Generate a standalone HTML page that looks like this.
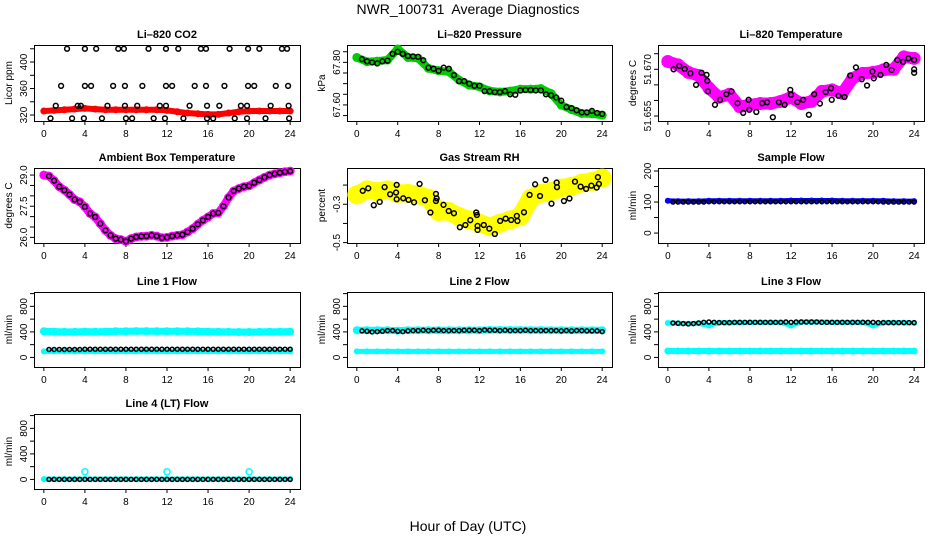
<!DOCTYPE html>
<html><head><meta charset="utf-8"><style>
html,body{margin:0;padding:0;background:#fff;}
svg{display:block;font-family:"Liberation Sans",Arial,sans-serif;}
</style></head><body>
<svg id="chart" width="936" height="540" viewBox="0 0 936 540" xmlns="http://www.w3.org/2000/svg">
<text x="468" y="14" font-size="14" text-anchor="middle" white-space="pre" xml:space="preserve">NWR_100731  Average Diagnostics</text>
<text x="468" y="531" font-size="14" text-anchor="middle">Hour of Day (UTC)</text>
</svg>
<script>
const HOURS=[0,1,2,3,4,5,6,7,8,9,10,11,12,13,14,15,16,17,18,19,20,21,22,23,24];
const HALF=[0.5,1,1.5,2,2.5,3,3.5,4,4.5,5,5.5,6,6.5,7,7.5,8,8.5,9,9.5,10,10.5,11,11.5,12,12.5,13,13.5,14,14.5,15,15.5,16,16.5,17,17.5,18,18.5,19,19.5,20,20.5,21,21.5,22,22.5,23,23.5,24];
const X_TICKS=[0,4,8,12,16,20,24];

// CO2
const co2Red=[326,327,328,329,330,329,328,328,328,328,328,328,327,325,323,322,321,321,323,325,326,326,326,326,326];
const co2BlackHours=[2.26,4.0,5.1,7.25,7.8,10.2,11.9,13.1,15.3,15.8,18.1,19.9,21.0,23.2,23.7,
1.68,4.0,4.6,6.75,7.9,9.6,11.9,12.5,14.7,15.8,17.6,19.9,20.5,22.6,23.8,
1.16,3.3,3.6,6.2,7.9,9.1,11.3,11.9,14.2,15.9,17.1,19.2,19.8,22.1,23.85,
0.65,2.75,3.9,5.66,8.0,8.6,10.7,11.8,13.6,15.9,16.5,18.6,19.8,21.6,23.9];
const co2BlackVals=[420,420,420,420,420,420,420,420,420,420,420,420,420,420,420,
364,364,364,364,364,364,364,364,364,364,364,364,364,364,364,
334,334,334,334,334,334,334,334,334,334,334,334,334,334,334,
315,315,315,315,315,315,315,315,315,315,315,315,315,315,315];

// Pressure
const presGreen=[67.823,67.803,67.806,67.811,67.863,67.823,67.819,67.772,67.761,67.756,67.717,67.693,67.685,67.666,67.661,67.665,67.674,67.674,67.677,67.654,67.599,67.578,67.560,67.558,67.552];
const presBlack=[67.815,67.805,67.800,67.795,67.805,67.808,67.840,67.850,67.840,67.830,67.828,67.826,67.810,67.775,67.770,67.760,67.775,67.770,67.740,67.712,67.712,67.700,67.690,67.690,67.665,67.664,67.660,67.660,67.665,67.650,67.648,67.668,67.670,67.670,67.668,67.668,67.650,67.645,67.635,67.620,67.590,67.585,67.575,67.565,67.565,67.572,67.562,67.558];

// Li-820 temperature
const tempMag=[51.6725,51.6714,51.669,51.668,51.664,51.661,51.662,51.658,51.6586,51.659,51.659,51.6597,51.661,51.659,51.6597,51.6629,51.6634,51.6623,51.6671,51.6687,51.669,51.6698,51.670,51.674,51.6735];
const tempBlackHours=[0.56,1.11,1.64,2.2,2.75,3.28,3.77,3.84,3.9,4.59,5.08,5.7,6.2,6.79,7.34,7.87,7.93,8.62,9.18,9.67,10.23,10.82,11.38,11.93,12.0,12.62,13.18,13.74,14.26,14.82,15.38,15.9,15.97,16.62,17.21,17.77,18.33,18.89,19.41,19.93,20.07,20.72,21.28,21.8,22.36,22.92,23.44,24.0,24.0,24.0];
const tempBlackVals=[51.6700,51.6711,51.6701,51.6687,51.6650,51.6689,51.6682,51.6663,51.6629,51.6586,51.6602,51.6620,51.6629,51.6591,51.6560,51.6602,51.6570,51.6563,51.6591,51.6594,51.6546,51.6594,51.6586,51.6634,51.6618,51.6595,51.6602,51.6554,51.6620,51.6590,51.6627,51.6639,51.6602,51.6615,51.6611,51.6680,51.6706,51.6668,51.6648,51.6693,51.6671,51.6682,51.6714,51.6698,51.6730,51.6724,51.6735,51.6730,51.6700,51.6689];

// Ambient box temperature (half-hourly from 0)
const ambHours=[0,0.5,1,1.5,2,2.5,3,3.5,4,4.5,5,5.5,6,6.5,7,7.5,8,8.5,9,9.5,10,10.5,11,11.5,12,12.5,13,13.5,14,14.5,15,15.5,16,16.5,17,17.5,18,18.5,19,19.5,20,20.5,21,21.5,22,22.5,23,23.5,24];
const ambVals=[29.0,28.95,28.73,28.44,28.27,28.06,27.82,27.71,27.47,27.15,26.98,26.66,26.34,26.10,25.94,25.89,25.81,25.94,26.02,26.05,26.06,26.10,26.06,25.98,26.0,26.06,26.10,26.13,26.26,26.42,26.63,26.82,26.98,27.15,27.18,27.50,27.92,28.23,28.35,28.44,28.48,28.63,28.76,28.89,29.0,29.06,29.11,29.16,29.19];

// Gas stream RH
const rhYellow=[-0.251,-0.225,-0.234,-0.225,-0.243,-0.243,-0.251,-0.269,-0.338,-0.338,-0.364,-0.382,-0.399,-0.417,-0.399,-0.382,-0.364,-0.269,-0.243,-0.234,-0.216,-0.207,-0.19,-0.181,-0.164];
const rhBlackHours=[0.58,1.12,1.66,2.24,2.72,3.26,3.84,3.9,3.9,4.54,5.06,5.6,6.14,6.66,7.2,7.74,7.74,7.81,8.48,8.99,9.5,10.08,10.62,11.1,11.68,11.74,11.81,11.81,12.42,12.96,13.5,14.02,14.56,15.1,15.65,15.71,16.35,16.9,17.44,17.92,18.46,19.04,19.55,19.58,20.26,20.8,21.34,21.89,22.43,22.94,23.46,23.58,23.68];
const rhBlackVals=[-0.230,-0.217,-0.305,-0.288,-0.211,-0.248,-0.239,-0.199,-0.274,-0.269,-0.277,-0.290,-0.194,-0.279,-0.343,-0.283,-0.246,-0.269,-0.303,-0.335,-0.347,-0.420,-0.408,-0.383,-0.343,-0.356,-0.413,-0.434,-0.408,-0.427,-0.455,-0.387,-0.375,-0.382,-0.361,-0.387,-0.342,-0.251,-0.196,-0.257,-0.173,-0.297,-0.187,-0.211,-0.283,-0.270,-0.182,-0.208,-0.220,-0.203,-0.213,-0.159,-0.194];

// Sample flow
const sampleBlue=[104,103,103,103,104,104,104,104,104,104,104,104,105,105,105,105,105,104,104,104,104,104,103,103,103];
const sampleBlack=[100,100,100,100,100,100,100,101,101,101,101,101,101,101,101,101,101,101,101,101,101,101,101,101,101,101,101,101,101,101,101,101,101,101,101,101,101,101,101,101,101,100,100,100,100,100,100,100];

// Line flows
const l1CyanHi=[410,405,400,400,405,402,405,410,410,412,412,410,410,410,410,408,405,402,400,398,398,400,402,402,405];
const l1CyanLo=[95,95,95,95,95,95,95,95,95,95,95,95,95,95,95,95,95,95,95,95,95,95,95,95,95];
const l1Black=[125,125,125,125,125,125,125,128,128,128,128,128,128,128,128,128,128,128,128,128,128,128,128,128,128,128,128,128,128,128,128,128,128,128,128,128,128,128,128,128,128,128,128,128,128,128,128,128];
const l2CyanHi=[425,425,425,425,420,425,425,425,425,425,425,425,425,430,430,430,430,428,428,425,425,425,425,425,425];
const l2CyanLo=[95,95,95,95,95,95,95,95,95,95,95,95,95,95,95,95,95,95,95,95,95,95,95,95,95];
const l2Black=[415,410,400,405,410,420,420,410,405,415,420,420,425,420,425,425,420,420,420,420,425,425,425,420,430,425,425,420,425,420,420,420,425,420,420,420,420,420,420,415,420,415,420,420,415,415,415,405];
const l3CyanHi=[540,535,530,535,500,545,545,545,550,550,550,550,500,555,555,555,550,550,550,550,500,545,545,545,540];
const l3CyanLo=[100,100,100,100,100,100,100,100,100,100,100,100,100,100,100,100,100,100,100,100,100,100,100,100,100];
const l3Black=[540,535,530,525,530,540,550,555,550,545,545,545,550,550,550,550,550,550,550,550,550,550,555,550,555,555,555,555,555,550,550,550,550,550,550,550,550,550,550,550,545,545,545,545,545,545,545,545];
const l4Cyan=[5,5,5,5,5,5,5,5,5,5,5,5,5,5,5,5,5,5,5,5,5,5,5,5,5];
const l4SpikeHours=[4,12,20];
const l4SpikeVals=[120,120,120];
const l4Black=[0,0,0,0,0,0,0,0,0,0,0,0,0,0,0,0,0,0,0,0,0,0,0,0,0,0,0,0,0,0,0,0,0,0,0,0,0,0,0,0,0,0,0,0,0,0,0,0];

const NS="http://www.w3.org/2000/svg";
const svg=document.getElementById('chart');
function el(tag,attrs,parent){const e=document.createElementNS(NS,tag);for(const k in attrs)e.setAttribute(k,attrs[k]);parent.appendChild(e);return e;}

function panel(name,title,ylab,x0,y0,x1,y1,ymin,ymax,ticks,labels,labelFmt){
  const g=el('g',{},svg);
  
  
  const sx=h=>x0+(h+0.96)/25.92*(x1-x0);
  const sy=v=>y1-(v-ymin)/(ymax-ymin)*(y1-y0);
  const t=el('text',{x:(x0+x1)/2,y:y0-7,'font-size':11,'font-weight':'bold','text-anchor':'middle'},g);
  t.textContent=title;
  
  
  const yl=el('text',{x:0,y:0,'font-size':10,'text-anchor':'middle',transform:`translate(${x0-22},${(y0+y1)/2}) rotate(-90)`},g);
  yl.textContent=ylab;
  
  
  const xa=el('g',{stroke:'#000','stroke-width':1},g);
  
  
  el('line',{x1:sx(0),x2:sx(24),y1:y1+0.5,y2:y1+0.5},xa);
  X_TICKS.forEach(h=>{
    el('line',{x1:sx(h),x2:sx(h),y1:y1,y2:y1+4},xa);
    const tl=el('text',{x:sx(h),y:y1+16,'font-size':10,'text-anchor':'middle',stroke:'none'},xa);
    tl.textContent=h;
    
    
  });
  const ya=el('g',{stroke:'#000','stroke-width':1},g);
  
  
  ticks.forEach(v=>{
    el('line',{x1:x0-4,x2:x0,y1:sy(v),y2:sy(v)},ya);
  });
  labels.forEach(v=>{
    const tl=el('text',{x:0,y:0,'font-size':10,'text-anchor':'middle',stroke:'none',transform:`translate(${x0-7},${sy(v)}) rotate(-90)`},ya);
    tl.textContent=labelFmt(v);
    
    
  });
  const box=el('rect',{x:x0+0.5,y:y0+0.5,width:x1-x0,height:y1-y0,fill:'none',stroke:'#000','stroke-width':1},g);
  
  
  return {g,sx,sy};
}
function band(p,hours,vals,w,color,name){
  const pts=hours.map((h,i)=>p.sx(h)+','+p.sy(vals[i])).join(' ');
  const pl=el('polyline',{points:pts,fill:'none',stroke:color,'stroke-width':w,'stroke-linejoin':'round','stroke-linecap':'round'},p.g);
  
  
  hours.forEach((h,i)=>{
    const c=el('circle',{cx:p.sx(h),cy:p.sy(vals[i]),r:w/2+0.5,fill:color},p.g);
    
    
  });
}
function pts(p,hours,vals,color,name,r){
  hours.forEach((h,i)=>{
    const c=el('circle',{cx:p.sx(h),cy:p.sy(vals[i]),r:r||2.4,fill:'none',stroke:color,'stroke-width':1.5},p.g);
    
    
  });
}
const f0=v=>String(v), f1=v=>v.toFixed(1), f2=v=>v.toFixed(2), f3=v=>v.toFixed(3);
const C1=[34,300],C2=[347,612],C3=[658,924];
const R1=[45,121],R2=[168,243],R3=[292,367],R4=[414,489];

let p=panel('co2','Li\u2013820 CO2','Licor ppm',C1[0],R1[0],C1[1],R1[1],311,425.7,[320,340,360,380,400,420],[320,360,400],f0);
band(p,HOURS,co2Red,6,'#ff0000','co2-red-series');
pts(p,co2BlackHours,co2BlackVals,'#000','co2-black-point');

p=panel('pressure','Li\u2013820 Pressure','kPa',C2[0],R1[0],C2[1],R1[1],67.5245,67.8816,[67.55,67.60,67.65,67.70,67.75,67.80,67.85],[67.60,67.80],f2);
band(p,HOURS,presGreen,8,'#00cc00','pressure-green-series');
pts(p,HALF,presBlack,'#000','pressure-black-point');

p=panel('li820-temp','Li\u2013820 Temperature','degrees C',C3[0],R1[0],C3[1],R1[1],51.6534,51.6778,[51.655,51.660,51.665,51.670,51.675],[51.655,51.670],f3);
band(p,HOURS,tempMag,12,'#ff00ff','temp-magenta-series');
pts(p,tempBlackHours,tempBlackVals,'#000','temp-black-point');

p=panel('ambient','Ambient Box Temperature','degrees C',C1[0],R2[0],C1[1],R2[1],25.73,29.34,[26,26.5,27,27.5,28,28.5,29],[26,27.5,29],f1);
band(p,ambHours,ambVals,8,'#ff00ff','ambient-magenta-series');
pts(p,HALF,ambVals.slice(1),'#000','ambient-black-point');

p=panel('rh','Gas Stream RH','percent',C2[0],R2[0],C2[1],R2[1],-0.502,-0.111,[-0.5,-0.4,-0.3,-0.2],[-0.5,-0.3],f1);
band(p,HOURS,rhYellow,18,'#ffff00','rh-yellow-series');
pts(p,rhBlackHours,rhBlackVals,'#000','rh-black-point');

p=panel('sample-flow','Sample Flow','ml/min',C3[0],R2[0],C3[1],R2[1],-32,209.7,[0,50,100,150,200],[0,100,200],f0);
band(p,HOURS,sampleBlue,5,'#0000ff','sample-blue-series');
pts(p,HALF,sampleBlack,'#000','sample-black-point',2);

const flowTicks=[0,200,400,600,800,1000], flowLabels=[0,400,800];
p=panel('line1','Line 1 Flow','ml/min',C1[0],R3[0],C1[1],R3[1],-150,1025,flowTicks,flowLabels,f0);
band(p,HOURS,l1CyanHi,7,'#00ffff','line1-cyan-high');
band(p,HOURS,l1CyanLo,5,'#00ffff','line1-cyan-low');
pts(p,HALF,l1Black,'#000','line1-black-point',2);

p=panel('line2','Line 2 Flow','ml/min',C2[0],R3[0],C2[1],R3[1],-150,1025,flowTicks,flowLabels,f0);
band(p,HOURS,l2CyanHi,7,'#00ffff','line2-cyan-high');
band(p,HOURS,l2CyanLo,5,'#00ffff','line2-cyan-low');
pts(p,HALF,l2Black,'#000','line2-black-point',2);

p=panel('line3','Line 3 Flow','ml/min',C3[0],R3[0],C3[1],R3[1],-150,1025,flowTicks,flowLabels,f0);
band(p,HOURS,l3CyanHi,5,'#00ffff','line3-cyan-high');
band(p,HOURS,l3CyanLo,6,'#00ffff','line3-cyan-low');
pts(p,HALF,l3Black,'#000','line3-black-point',2);

p=panel('line4','Line 4 (LT) Flow','ml/min',C1[0],R4[0],C1[1],R4[1],-150,1025,flowTicks,flowLabels,f0);
band(p,HOURS,l4Cyan,5,'#00ffff','line4-cyan-series');
pts(p,l4SpikeHours,l4SpikeVals,'#00ffff','line4-cyan-spike',3);
pts(p,HALF,l4Black,'#000','line4-black-point',2);
</script>
</body></html>
